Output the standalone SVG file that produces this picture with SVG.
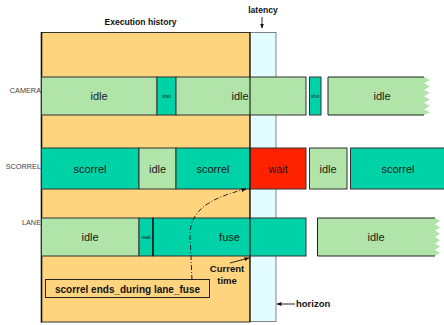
<svg xmlns="http://www.w3.org/2000/svg" width="444" height="325" viewBox="0 0 444 325">
  <style>
    .lbl { font-family: "Liberation Sans", Arial, sans-serif; fill: #1a1a1a; text-anchor: middle; }
    .big { font-size: 11px; }
    .tiny { font-size: 4.5px; }
    .row { font-family: "Liberation Sans", Arial, sans-serif; font-size: 7.3px; fill: #444; text-anchor: end; }
    .bold { font-family: "Liberation Sans", Arial, sans-serif; font-weight: bold; fill: #111; }
    .box { stroke: #333; stroke-width: 1; }
    .idle { fill: #B0E4A8; }
    .work { fill: #00D2A8; }
    .wait { fill: #FF2200; }
    .edge { fill: none; stroke: #222; stroke-width: 1; }
    .arrow { fill: none; stroke: #111; stroke-width: 0.9; marker-end: url(#head); }
  </style>
  <defs>
    <marker id="head" viewBox="0 0 10 10" refX="9" refY="5" markerWidth="5" markerHeight="5" orient="auto" markerUnits="userSpaceOnUse">
      <path d="M0,1 L10,5 L0,9 Z" fill="#111"/>
    </marker>
  </defs>

  <rect width="444" height="325" fill="#fff"/>

  <!-- execution history backdrop -->
  <g id="history">
    <rect x="41.5" y="32.5" width="208.5" height="289.5" fill="#FFD47F" stroke="#333" stroke-width="1"/>
    <line x1="41.5" y1="32" x2="41.5" y2="322.5" stroke="#111" stroke-width="1.6"/>
    <text class="bold" x="140.5" y="25" font-size="8.6" text-anchor="middle">Execution history</text>
  </g>

  <!-- latency column -->
  <g id="latency">
    <rect x="250" y="32.5" width="26" height="289" fill="#E2FCFF" stroke="#666" stroke-width="0.8"/>
    <text class="bold" x="263" y="13" font-size="8.6" text-anchor="middle">latency</text>
  </g>

  <!-- CAMERA lane -->
  <g id="camera">
    <text class="row" x="41" y="93">CAMERA</text>
    <rect class="box idle" x="41.5" y="77" width="115.5" height="38"/>
    <text class="lbl big" x="99" y="100">idle</text>
    <rect class="box work" x="157" y="77" width="19" height="38"/>
    <text class="lbl tiny" x="166.5" y="97.5">shot</text>
    <rect class="box idle" x="176" y="77" width="130" height="38"/>
    <text class="lbl big" x="240" y="100">idle</text>
    <rect class="box work" x="309.5" y="77" width="11.5" height="38"/>
    <text class="lbl tiny" x="315.2" y="97.5">shot</text>
    <polygon class="idle" points="328,77 424,77 430,80 424,83.2 430,86.5 424,89.7 430,93 424,96.2 430,99.5 424,102.7 430,106 424,109.2 430,112.5 424,115 328,115"/>
    <path class="edge" d="M424,77 H328 V115 H424"/>
    <text class="lbl big" x="382" y="100">idle</text>
  </g>

  <!-- SCORREL lane -->
  <g id="scorrel">
    <text class="row" x="41" y="169">SCORREL</text>
    <rect class="box work" x="41.5" y="148" width="97.5" height="41"/>
    <text class="lbl big" x="90" y="172.5">scorrel</text>
    <rect class="box idle" x="139" y="148" width="37" height="41"/>
    <text class="lbl big" x="157.5" y="172.5">idle</text>
    <rect class="box work" x="176" y="148" width="74" height="41"/>
    <text class="lbl big" x="213" y="172.5">scorrel</text>
    <rect class="box wait" x="250" y="148" width="56" height="41"/>
    <text class="lbl big" x="278" y="172.5">wait</text>
    <rect class="box idle" x="309.5" y="148" width="37.5" height="41"/>
    <text class="lbl big" x="328" y="172.5">idle</text>
    <rect class="box work" x="350.5" y="148" width="100" height="41"/>
    <text class="lbl big" x="398" y="172.5">scorrel</text>
  </g>

  <!-- LANE lane -->
  <g id="lane">
    <text class="row" x="41" y="224.5">LANE</text>
    <rect class="box idle" x="41.5" y="218" width="97.5" height="38"/>
    <text class="lbl big" x="90" y="241">idle</text>
    <rect class="box work" x="139" y="218" width="14" height="38"/>
    <text class="lbl tiny" x="146" y="238.5">read</text>
    <rect class="box work" x="153" y="218" width="153" height="38"/>
    <line x1="153" y1="218" x2="153" y2="256" stroke="#111" stroke-width="1.2"/>
    <text class="lbl big" x="229.5" y="241">fuse</text>
    <polygon class="idle" points="317.5,218 435,218 440,221 435,224.2 440,227.4 435,230.6 440,233.8 435,237 440,240.2 435,243.4 440,246.6 435,249.8 440,253 435,256 317.5,256"/>
    <path class="edge" d="M435,218 H317.5 V256 H435"/>
    <text class="lbl big" x="376" y="241">idle</text>
  </g>

  <!-- current-time boundary drawn over the lanes -->
  <line x1="250" y1="32" x2="250" y2="322" stroke="#111" stroke-width="1.1"/>

  <!-- annotation -->
  <g id="note">
    <rect x="45.5" y="279.5" width="164" height="18" fill="#FFD47F" stroke="#222" stroke-width="1"/>
    <text class="bold" x="127.5" y="292.5" font-size="10" text-anchor="middle">scorrel ends_during lane_fuse</text>
  </g>

  <g id="current-time">
    <text class="bold" x="227" y="272" font-size="9.5" text-anchor="middle">Current</text>
    <text class="bold" x="227" y="284" font-size="9.5" text-anchor="middle">time</text>
  </g>

  <g id="horizon">
    <text class="bold" x="296" y="307" font-size="9.5">horizon</text>
  </g>

  <!-- connectors -->
  <g id="connectors">
    <path class="arrow" d="M262,17 V28"/>
    <path class="arrow" d="M295,304 H277"/>
    <path class="arrow" d="M230,263 L249,258"/>
    <path class="arrow" d="M192,280 L190,235 C190,210 210,198 246,189" stroke-dasharray="5,2,1,2"/>
  </g>
</svg>
